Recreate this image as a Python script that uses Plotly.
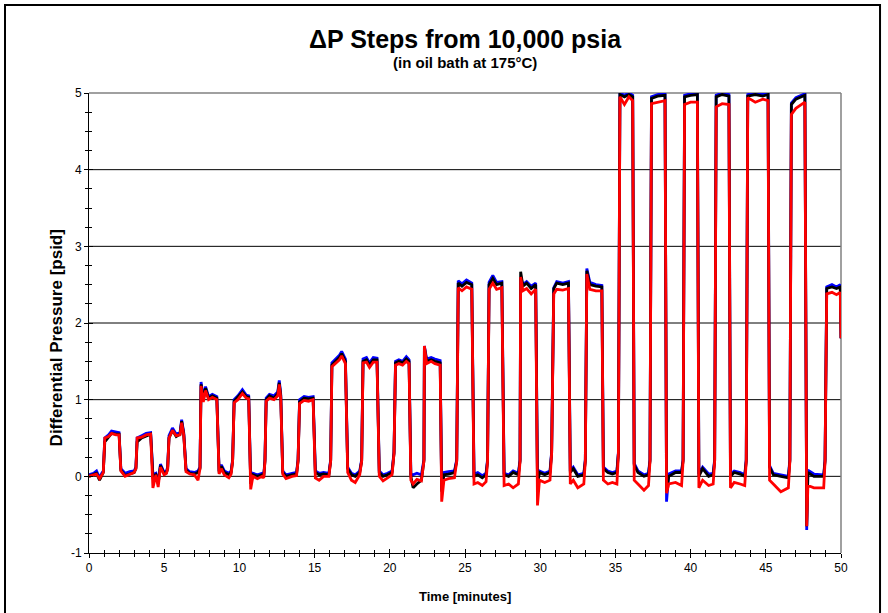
import plotly.graph_objects as go

# ---- data (time in minutes, differential pressure in psid) ----
time_min = [
    0.0, 0.3, 0.5, 0.7, 0.85,
    0.95, 1.05, 1.3, 1.5, 1.8, 2.0,
    2.12, 2.4, 2.7, 3.0,
    3.12, 3.2, 3.5, 3.8, 4.1,
    4.25, 4.45, 4.6, 4.75, 5.0, 5.15,
    5.23, 5.32, 5.55, 5.8, 6.05, 6.16, 6.3,
    6.45, 6.7, 7.0, 7.25,
    7.38, 7.45, 7.6, 7.75, 7.95, 8.2, 8.5,
    8.65, 8.8, 9.0, 9.3, 9.45,
    9.55, 9.65, 9.9, 10.2, 10.45, 10.62,
    10.75, 10.9, 11.2, 11.5, 11.62,
    11.7, 11.78, 12.0, 12.3, 12.55, 12.65, 12.75,
    12.88, 13.1, 13.5, 13.8,
    13.9, 14.0, 14.3, 14.6, 14.9,
    15.05, 15.3, 15.6, 15.95,
    16.07, 16.15, 16.4, 16.65, 16.8, 17.05,
    17.2, 17.45, 17.7, 18.0,
    18.13, 18.22, 18.45, 18.65, 18.9, 19.15,
    19.3, 19.55, 19.85, 20.15,
    20.28, 20.38, 20.6, 20.85, 21.1, 21.28,
    21.4, 21.55, 21.8, 22.1,
    22.27, 22.3, 22.45, 22.75, 23.0, 23.35,
    23.45, 23.6, 23.9, 24.3,
    24.45, 24.55, 24.8, 25.1, 25.45,
    25.6, 25.85, 26.15, 26.4,
    26.5, 26.6, 26.85, 27.1, 27.45,
    27.6, 27.9, 28.2, 28.55,
    28.66, 28.7, 28.85, 29.1, 29.4, 29.7,
    29.82, 29.95, 30.3, 30.65,
    30.76, 30.9, 31.1, 31.5, 31.88,
    32.0, 32.2, 32.5, 32.9,
    33.0, 33.1, 33.3, 33.7, 34.1,
    34.2, 34.5, 34.8, 35.1,
    35.2, 35.3, 35.6, 35.9, 36.15,
    36.25, 36.5, 36.9, 37.2,
    37.3, 37.4, 37.8, 38.3,
    38.4, 38.55, 39.0, 39.4,
    39.5, 39.6, 40.0, 40.45,
    40.55, 40.8, 41.2, 41.5,
    41.6, 41.7, 42.1, 42.55,
    42.65, 42.9, 43.3, 43.6,
    43.7, 43.8, 44.3, 44.8, 45.15,
    45.25, 45.5, 46.0, 46.5,
    46.6, 46.7, 47.0, 47.6,
    47.72, 47.8, 48.2, 48.85,
    48.94, 49.05, 49.4, 49.7, 49.95, 50.0,
]

dp_black = [
    0.0, 0.02, 0.04, -0.05, 0.02,
    0.05, 0.45, 0.52, 0.56, 0.55, 0.55,
    0.08, 0.01, 0.03, 0.05,
    0.1, 0.45, 0.5, 0.53, 0.55,
    0.0, 0.02, -0.1, 0.14, 0.03, 0.05,
    0.1, 0.5, 0.6, 0.52, 0.55, 0.72, 0.55,
    0.08, 0.04, 0.03, 0.05,
    0.1, 1.2, 1.0, 1.15, 1.02, 1.05, 1.02,
    0.05, 0.13, 0.05, 0.02, 0.05,
    0.2, 0.98, 1.03, 1.1, 1.04, 1.03,
    -0.1, 0.02, 0.0, 0.02, 0.0,
    0.2, 1.0, 1.05, 1.02, 1.08, 1.22, 1.05,
    0.05, 0.0, 0.02, 0.03,
    0.2, 0.97, 1.02, 1.01, 1.02,
    0.05, 0.02, 0.03, 0.02,
    0.2, 1.45, 1.5, 1.55, 1.6, 1.5,
    0.1, 0.02, 0.0, 0.05,
    0.2, 1.5, 1.52, 1.45, 1.52, 1.52,
    0.05, 0.0, 0.02, 0.05,
    0.3, 1.48, 1.5, 1.48, 1.53, 1.5,
    0.0, -0.15, -0.1, -0.05,
    0.2, 1.68, 1.5, 1.52, 1.5, 1.48,
    -0.2, 0.02, 0.03, 0.05,
    0.2, 2.52, 2.48, 2.53, 2.5,
    0.0, 0.02, -0.02, 0.02,
    0.2, 2.5, 2.58, 2.5, 2.52,
    0.02, 0.0, 0.05, 0.02,
    0.2, 2.67, 2.48, 2.52, 2.45, 2.5,
    -0.1, 0.05, 0.02, 0.05,
    0.3, 2.45, 2.52, 2.5, 2.52,
    0.05, 0.1, 0.0, 0.02,
    0.2, 2.68, 2.5, 2.48, 2.47,
    0.1, 0.05, 0.03, 0.05,
    0.3, 4.98, 4.95, 4.98, 4.95,
    0.15, 0.05, 0.0, 0.02,
    0.2, 4.93, 4.96, 4.97,
    -0.2, 0.0, 0.05, 0.05,
    0.2, 4.95, 4.97, 4.98,
    0.0, 0.1, 0.0, 0.02,
    0.2, 4.95, 4.98, 4.96,
    0.0, 0.05, 0.03, 0.0,
    0.2, 4.96, 4.98, 4.96, 4.98,
    0.12, 0.02, 0.0, -0.02,
    0.2, 4.85, 4.92, 4.97,
    -0.65, 0.05, 0.0, 0.0,
    0.2, 2.45, 2.47, 2.45, 2.47, 1.8,
]

dp_blue = [
    0.02, 0.04, 0.07, -0.02, 0.04,
    0.07, 0.5, 0.54, 0.59, 0.58, 0.57,
    0.1, 0.04, 0.06, 0.07,
    0.12, 0.5, 0.53, 0.56, 0.57,
    0.02, 0.04, -0.08, 0.16, 0.05, 0.07,
    0.12, 0.53, 0.63, 0.55, 0.57, 0.74, 0.57,
    0.1, 0.06, 0.05, 0.07,
    0.12, 1.23, 1.03, 1.17, 1.04, 1.07, 1.04,
    0.07, 0.15, 0.07, 0.04, 0.07,
    0.22, 1.0, 1.05, 1.13, 1.06, 1.05,
    -0.08, 0.04, 0.02, 0.04, 0.02,
    0.22, 1.02, 1.07, 1.05, 1.1, 1.25, 1.07,
    0.07, 0.02, 0.04, 0.05,
    0.22, 1.0, 1.04, 1.03, 1.04,
    0.07, 0.04, 0.05, 0.04,
    0.22, 1.48, 1.53, 1.58, 1.63, 1.53,
    0.12, 0.04, 0.02, 0.07,
    0.22, 1.53, 1.55, 1.48, 1.55, 1.54,
    0.07, 0.02, 0.04, 0.07,
    0.32, 1.5, 1.52, 1.5, 1.56, 1.52,
    0.03, 0.02, 0.04, 0.02,
    0.22, 1.7, 1.53, 1.55, 1.53, 1.51,
    -0.18, 0.05, 0.06, 0.07,
    0.22, 2.55, 2.51, 2.56, 2.52,
    0.03, 0.05, 0.01, 0.04,
    0.22, 2.53, 2.62, 2.53, 2.54,
    0.04, 0.02, 0.07, 0.04,
    0.22, 2.6, 2.5, 2.54, 2.48, 2.52,
    -0.08, 0.07, 0.04, 0.07,
    0.32, 2.46, 2.54, 2.52, 2.54,
    0.07, 0.12, 0.02, 0.04,
    0.22, 2.71, 2.53, 2.5, 2.49,
    0.12, 0.07, 0.05, 0.07,
    0.32, 5.0, 4.97, 5.0, 4.97,
    0.17, 0.07, 0.02, 0.04,
    0.22, 4.95, 4.98, 4.99,
    -0.33, 0.03, 0.07, 0.07,
    0.22, 4.97, 4.99, 5.0,
    0.03, 0.12, 0.03, 0.04,
    0.22, 4.97, 5.0, 4.98,
    0.03, 0.07, 0.05, 0.02,
    0.22, 4.98, 5.0, 4.98, 5.0,
    0.14, 0.04, 0.02, 0.0,
    0.22, 4.87, 4.94, 4.99,
    -0.7, 0.08, 0.03, 0.02,
    0.22, 2.47, 2.5, 2.47, 2.5, 1.8,
]

dp_red = [
    0.0, 0.02, 0.03, -0.03, 0.02,
    0.05, 0.5, 0.52, 0.56, 0.54, 0.54,
    0.07, 0.0, 0.02, 0.05,
    0.1, 0.5, 0.51, 0.54, 0.55,
    -0.15, 0.02, -0.14, 0.12, 0.02, 0.04,
    0.1, 0.5, 0.6, 0.53, 0.54, 0.7, 0.54,
    0.06, 0.03, 0.02, -0.05,
    0.1, 1.18, 0.97, 1.12, 1.0, 1.03, 1.0,
    0.03, 0.1, 0.02, -0.02, 0.03,
    0.2, 0.96, 1.0, 1.08, 1.02, 1.01,
    -0.17, 0.0, -0.03, 0.0, -0.02,
    0.2, 0.98, 1.02, 1.0, 1.05, 1.2, 1.02,
    0.03, -0.03, 0.0, 0.01,
    0.2, 0.95, 0.99, 0.98, 1.0,
    -0.02, -0.05, 0.0, 0.0,
    0.2, 1.43, 1.47, 1.52, 1.57, 1.47,
    0.05, -0.05, -0.08, 0.02,
    0.2, 1.48, 1.49, 1.42, 1.49, 1.49,
    0.0, -0.06, -0.02, 0.02,
    0.3, 1.45, 1.47, 1.45, 1.5, 1.47,
    -0.05, -0.1, -0.04, -0.06,
    0.2, 1.7, 1.47, 1.5, 1.47, 1.45,
    -0.33, -0.05, -0.03, -0.02,
    0.2, 2.46, 2.42, 2.47, 2.44,
    -0.1, -0.08, -0.12, -0.07,
    0.2, 2.44, 2.52, 2.44, 2.46,
    -0.12, -0.1, -0.15, -0.1,
    0.2, 2.6, 2.42, 2.45, 2.38, 2.44,
    -0.38, -0.05, -0.08, -0.05,
    0.3, 2.38, 2.44, 2.43, 2.45,
    -0.1, -0.05, -0.15, -0.1,
    0.2, 2.64, 2.44, 2.42, 2.42,
    -0.05, -0.1, -0.08, -0.1,
    0.3, 4.95, 4.85, 4.95, 4.9,
    -0.05, -0.1, -0.18, -0.12,
    0.2, 4.86, 4.88, 4.9,
    -0.22, -0.1, -0.08, -0.12,
    0.2, 4.85, 4.88, 4.88,
    -0.15, -0.05, -0.12, -0.1,
    0.2, 4.82, 4.86, 4.85,
    -0.15, -0.08, -0.1, -0.12,
    0.2, 4.94, 4.88, 4.92, 4.9,
    -0.05, -0.1, -0.2, -0.15,
    0.2, 4.72, 4.8, 4.88,
    -0.65, -0.12, -0.15, -0.15,
    0.2, 2.38, 2.4, 2.37, 2.4, 1.8,
]

x_ticks = [0, 5, 10, 15, 20, 25, 30, 35, 40, 45, 50]
y_ticks = [-1, 0, 1, 2, 3, 4, 5]
y_tick_text = ["-1", "0", "1", "2", "3", "4", "5"]

TITLE = "ΔP Steps from 10,000 psia"
SUBTITLE = "(in oil bath at 175°C)"
X_TITLE = "Time [minutes]"
Y_TITLE = "Differential Pressure [psid]"

FONT = "Liberation Sans, Arial, sans-serif"

fig = go.Figure()
for vals, col in [(dp_blue, "#0000ff"), (dp_black, "#000000"), (dp_red, "#ff0000")]:
    fig.add_trace(go.Scatter(x=time_min, y=vals, mode="lines",
                             line=dict(color=col, width=2.8), showlegend=False,
                             hoverinfo="skip"))

tickfont = dict(family=FONT, size=12, color="#000000")

fig.update_layout(
    width=888, height=613,
    margin=dict(l=89, r=47, t=93, b=60),
    paper_bgcolor="#ffffff", plot_bgcolor="#ffffff",
    font=dict(family=FONT, color="#000000"),
    xaxis=dict(range=[0, 50], tickvals=x_ticks, ticks="outside", ticklen=4, tickcolor="#000",
               minor=dict(dtick=1, ticks="outside", ticklen=3, tickcolor="#000"),
               showline=True, linecolor="#000", linewidth=1, showgrid=False, zeroline=False,
               tickfont=tickfont),
    yaxis=dict(range=[-1, 5], tickvals=y_ticks, ticktext=y_tick_text, ticks="outside", ticklen=4,
               tickcolor="#000",
               minor=dict(dtick=0.25, ticks="outside", ticklen=3, tickcolor="#000"),
               showline=True, linecolor="#000", linewidth=1, showgrid=False, zeroline=False,
               tickfont=tickfont),
    xaxis2=dict(range=[0, 50], overlaying="x", anchor="y", side="bottom", tickvals=x_ticks,
                ticks="inside", ticklen=4, tickcolor="#000", showticklabels=False,
                minor=dict(dtick=1, ticks="inside", ticklen=3, tickcolor="#000"),
                showgrid=False, zeroline=False, showline=False),
    yaxis2=dict(range=[-1, 5], overlaying="y", anchor="x", side="left", tickvals=y_ticks,
                ticks="inside", ticklen=4, tickcolor="#000", showticklabels=False,
                minor=dict(dtick=0.25, ticks="inside", ticklen=3, tickcolor="#000"),
                showgrid=False, zeroline=False, showline=False),
)

fig.add_trace(go.Scatter(x=[None], y=[None], xaxis="x2", yaxis="y2", showlegend=False))

# titles as annotations (paper coordinates; plot area spans 460 px vertically, 752 px horizontally)
fig.add_annotation(text="<b>" + TITLE + "</b>", xref="paper", yref="paper", x=0.5, y=1.117,
                   xanchor="center", yanchor="middle", showarrow=False,
                   font=dict(family=FONT, size=25, color="#000"))
fig.add_annotation(text="<b>" + SUBTITLE + "</b>", xref="paper", yref="paper", x=0.5, y=1.067,
                   xanchor="center", yanchor="middle", showarrow=False,
                   font=dict(family=FONT, size=15, color="#000"))
fig.add_annotation(text="<b>" + X_TITLE + "</b>", xref="paper", yref="paper", x=0.5, y=-0.095,
                   xanchor="center", yanchor="middle", showarrow=False,
                   font=dict(family=FONT, size=13, color="#000"))
fig.add_annotation(text="<b>" + Y_TITLE + "</b>", xref="paper", yref="paper", x=-0.043, y=0.468,
                   xanchor="center", yanchor="middle", showarrow=False, textangle=-90,
                   font=dict(family=FONT, size=17, color="#000"))

for yv in y_ticks[1:-1]:
    fig.add_shape(type="line", xref="paper", yref="y", x0=0, x1=1, y0=yv, y1=yv,
                  line=dict(color="#000000", width=1), layer="below")
fig.add_shape(type="line", xref="paper", yref="paper", x0=0, x1=1, y0=1, y1=1,
              line=dict(color="#808080", width=1.5), layer="below")
fig.add_shape(type="line", xref="paper", yref="paper", x0=1, x1=1, y0=0, y1=1,
              line=dict(color="#808080", width=1.5), layer="below")
fig.add_shape(type="rect", xref="paper", yref="paper", x0=-0.1117, x1=1.0519, y0=-0.14, y1=1.1913,
              line=dict(color="#000000", width=2), fillcolor="rgba(0,0,0,0)")

fig.write_html("out.html")
